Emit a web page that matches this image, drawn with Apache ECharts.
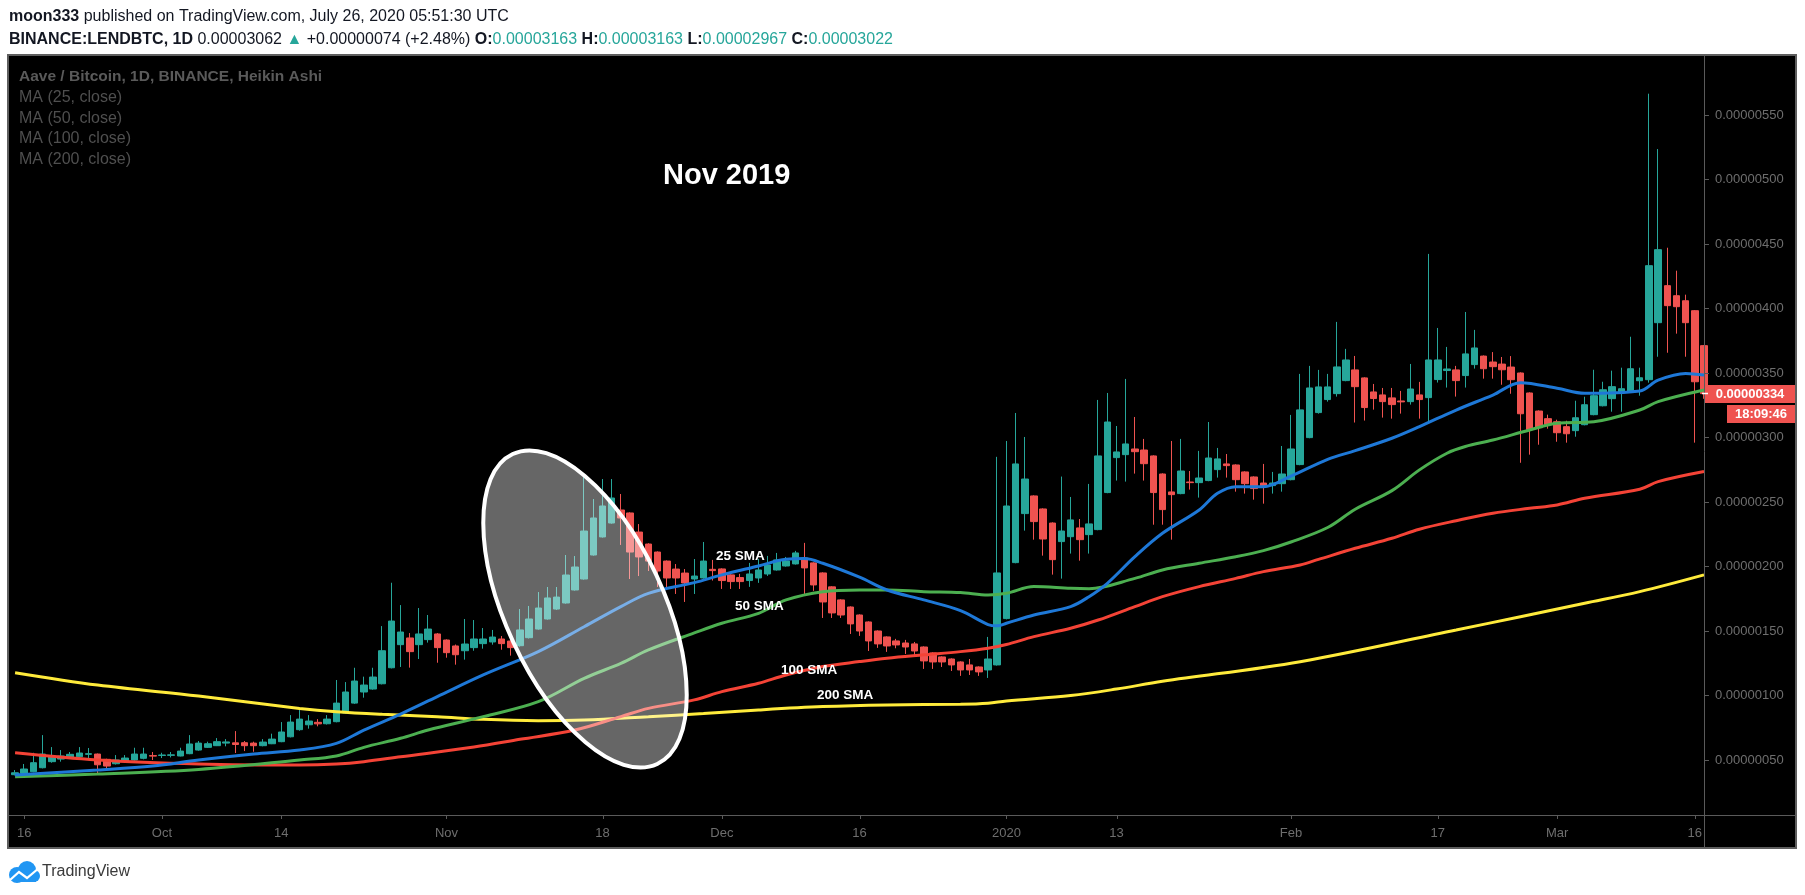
<!DOCTYPE html>
<html>
<head>
<meta charset="utf-8">
<script src="https://cdn.jsdelivr.net/npm/echarts@6/dist/echarts.min.js"></script>
<style>
html,body{margin:0;padding:0;background:#fff;}
#c{width:1805px;height:895px;}
</style>
</head>
<body>
<div id="c"></div>
<script>
// Heikin Ashi daily candles, day 0 = 2019-09-15; prices in units of 1e-8 BTC (550 = 0.00000550)
const haOpen = [38.6,39.6,40.9,44.0,48.7,50.7,51.8,52.5,54.4,54.6,50.5,47.1,48.7,50.0,51.3,53.4,53.5,53.6,53.1,54.9,
57.7,59.8,61.1,63.1,63.3,63.4,63.1,61.1,62.6,64.2,68.0,73.5,77.3,79.2,78.1,79.7,86.4,94.1,102.7,105.0,
109.1,121.5,139.4,144.6,139.4,143.3,147.7,143.0,138.4,134.7,137.1,140.2,141.5,143.8,142.2,138.6,144.8,151.5,159.3,167.0,
171.7,181.8,190.3,208.9,222.9,233.7,243.8,241.5,226.7,217.4,211.2,204.2,198.0,194.9,190.3,191.1,197.8,198.1,193.5,191.4,
189.1,191.1,194.2,197.3,200.4,202.0,206.6,202.8,195.0,184.2,174.1,168.6,162.4,157.0,150.0,145.4,142.3,140.7,140.0,137.6,
133.0,129.9,128.3,126.0,123.7,122.1,119.8,123.7,159.6,203.0,241.0,254.7,244.6,233.7,219.3,223.1,229.9,224.7,228.6,257.3,
284.4,286.7,291.1,290.3,285.7,271.7,257.8,256.5,265.5,265.0,266.6,275.1,279.5,278.7,273.3,269.4,264.7,262.7,264.2,267.3,
279.0,299.9,319.3,329.4,334.0,344.1,352.4,346.2,335.3,333.0,330.7,328.3,327.8,333.0,330.9,344.9,351.9,352.4,348.0,356.5,
363.1,358.5,356.9,354.6,350.0,334.5,320.5,314.6,312.2,308.4,305.3,309.9,317.7,324.6,330.1,334.7,335.5,344.0,344.8,389.0,
417.7,409.9,406.0,398.3,371.2];
const haClose = [40.1,43.0,47.9,54.6,53.1,53.1,54.4,55.4,54.9,46.3,45.3,50.0,51.5,54.6,54.6,53.0,53.9,54.0,56.9,62.4,
63.1,62.6,64.2,64.0,62.0,61.1,61.1,63.9,66.2,71.7,79.4,81.7,80.2,78.0,81.7,94.1,102.7,111.2,108.1,114.3,
134.7,157.7,149.2,134.0,147.7,151.5,137.1,133.2,131.6,139.9,143.8,143.8,145.3,140.2,137.1,150.8,159.3,167.8,175.6,176.3,
193.4,199.6,227.5,237.6,246.9,253.1,237.6,211.2,207.4,204.2,196.5,191.1,191.1,187.2,192.6,204.2,196.8,189.1,188.3,188.3,
194.2,197.3,201.2,205.1,204.3,210.5,198.9,185.7,172.5,164.0,162.4,155.5,150.0,142.3,140.0,138.4,139.2,137.6,134.5,126.8,
126.0,126.0,123.7,119.8,119.8,118.3,128.3,195.0,246.9,279.5,267.8,234.8,221.3,205.3,227.5,236.1,220.8,233.0,285.7,312.0,
288.8,295.0,289.0,279.7,257.3,244.1,255.7,274.0,265.0,268.6,284.1,283.4,278.2,267.3,264.2,260.4,261.9,264.7,271.7,291.1,
321.4,338.4,339.2,339.2,354.7,360.1,339.4,323.2,330.2,327.8,325.5,327.6,337.6,329.4,360.1,360.1,353.1,344.1,364.8,369.4,
353.3,354.9,352.5,344.8,318.4,306.0,307.6,309.9,303.7,302.9,315.3,325.4,332.4,337.0,339.4,337.8,353.3,346.3,433.2,445.6,
402.2,401.4,389.0,343.2,334.0];
const haLow = [38.1,39.0,40.5,43.5,47.9,48.7,51.0,50.5,50.5,39.6,42.7,46.5,48.0,49.5,50.5,50.0,51.5,52.0,52.8,54.5,
57.2,59.3,60.8,60.6,55.4,56.9,56.4,60.6,62.3,63.8,67.5,72.7,74.3,76.1,77.5,79.2,86.0,93.5,98.3,104.5,
108.6,121.0,122.1,121.6,128.3,141.0,125.4,129.3,123.9,127.8,134.7,136.3,139.4,135.5,130.9,137.8,144.2,151.0,158.8,166.3,
171.2,181.3,189.8,208.4,222.4,233.2,216.7,190.3,192.6,196.5,184.1,184.1,178.7,172.5,178.7,190.6,189.1,182.6,182.6,182.6,
184.2,187.3,192.7,196.8,199.9,201.5,178.7,181.1,160.1,160.1,160.1,147.7,146.2,134.5,136.9,133.8,136.6,132.2,130.7,120.6,
120.6,122.1,119.0,115.2,115.9,115.2,113.6,123.2,159.0,202.5,227.8,220.8,208.4,193.7,190.6,210.0,204.5,210.0,228.1,256.8,
266.6,265.8,272.0,266.6,232.4,232.4,220.8,256.0,259.6,253.4,266.1,268.9,268.9,258.0,256.5,251.8,248.7,256.5,258.0,266.8,
278.5,299.4,318.5,327.8,331.7,343.6,311.6,313.1,321.6,315.4,314.6,318.5,325.5,314.6,312.3,342.6,338.7,331.7,338.7,353.4,
345.6,345.6,340.9,333.9,280.4,286.7,294.4,306.8,296.7,296.0,300.6,309.4,317.2,324.1,320.0,320.0,335.0,332.4,342.5,362.6,
365.7,380.5,362.6,296.0,330.0];
const haHigh = [42.2,46.9,55.6,69.3,60.0,57.7,56.2,60.0,59.3,55.0,51.0,53.8,53.8,59.5,59.5,56.2,55.6,56.2,59.5,69.3,
64.7,64.2,67.0,66.2,72.4,64.7,64.2,66.2,70.4,79.4,84.8,88.7,84.8,81.7,84.8,112.0,110.4,121.5,114.6,121.5,
153.8,187.4,170.1,148.4,167.8,162.4,148.4,143.5,139.5,159.3,158.5,152.3,150.8,146.1,142.7,167.0,169.4,180.2,184.1,184.1,
208.9,208.1,270.1,252.3,267.8,267.8,256.2,242.0,232.9,218.0,211.7,204.7,201.9,198.0,205.8,219.0,205.1,198.6,194.0,194.3,
202.8,205.9,208.2,210.5,207.4,212.1,218.3,203.3,195.5,184.7,174.6,169.1,162.9,157.5,150.5,145.9,143.9,143.1,141.5,138.1,
133.5,130.4,128.8,126.5,128.3,122.6,145.4,285.0,297.3,319.0,300.4,255.2,245.1,234.2,269.7,253.9,236.8,264.0,329.1,334.5,
308.9,345.4,315.9,298.9,286.2,272.2,297.3,298.9,274.0,289.6,312.0,291.9,287.2,279.2,273.8,269.9,279.5,273.3,293.4,317.5,
349.3,355.5,352.4,349.3,389.6,368.7,363.2,346.7,341.5,338.4,338.4,336.1,357.0,343.1,442.3,384.9,370.2,355.5,397.3,383.4,
363.6,366.2,362.4,363.1,350.5,335.0,321.0,317.7,313.8,313.0,328.5,331.6,352.5,343.2,351.8,354.1,378.1,354.1,566.5,523.6,
447.1,429.3,410.7,398.8,371.7];

// Moving averages: [day, value]
const ma25 = [[0,38.3],[9,42.2],[15,45.3],[20,50.0],[26,54.6],[31,57.7],[35,62.9],[38,73.2],[42,85.6],[46,99.1],[51,115.9],[57,134.0],
[62,153.3],[66,168.9],[69,179.2],[74,187.5],[77,193.5],[81,200.4],[84,205.6],[86,206.1],[88,202.5],[92,191.7],[95,181.8],[99,174.1],
[103,165.8],[106,155.0],[107,154.0],[108,156.0],[111,162.4],[115,168.9],[117,176.6],[119,187],[122,207.6],[125,225.7],[129,243.8],[131,256.7],
[133,261.9],[136,261.9],[139,270.0],[143,283.1],[146,289.8],[150,299.4],[153,308.4],[157,321.3],[161,332.9],[164,342.5],[168,338.1],
[171,334.2],[177,336.0],[179,344.5],[182,349.7],[184,348.4]];
const ma50 = [[0,37.0],[9,39.1],[20,42.7],[31,50.0],[35,53.1],[38,59.8],[42,66.8],[45,73.2],[51,83.6],[57,95.2],[62,113.3],[66,124.9],
[69,135.3],[74,148.5],[77,156.0],[81,163.7],[84,174.1],[88,180.5],[92,181.8],[95,181.8],[99,180.5],[103,179.8],[106,177.9],[108,179.2],
[111,184.4],[115,183.1],[117,182.8],[122,190.8],[125,197.3],[129,202.5],[133,207.6],[136,212.3],[139,219.0],[143,230.2],[146,244.4],
[150,258.8],[153,274.9],[156,287.8],[158,293.0],[161,298.0],[165,305.8],[168,311.0],[172,312.2],[177,321.3],[179,327.8],[184,336.8]];
const ma100 = [[0,55.6],[9,50.0],[20,46.9],[31,46.1],[35,46.9],[38,48.7],[42,52.5],[50,60.0],[55,66.0],[61,73.2],[66,83.6],[69,90.0],
[74,96.6],[77,103.0],[81,109.5],[84,115.9],[88,122.4],[92,126.3],[95,128.9],[99,131.5],[103,134.0],[106,136.6],[108,139.5],[111,145.6],
[115,152.1],[118,158.5],[122,168.9],[125,176.6],[129,184.4],[133,190.8],[136,196.0],[140,201.2],[142,205.5],[146,214.1],[150,221.9],
[153,228.9],[157,235.5],[161,241.3],[165,245.1],[168,247.7],[171,252.9],[177,259.9],[179,265.8],[184,273.6]];
const ma200 = [[0,117.7],[9,108.1],[20,99.6],[31,90.0],[35,87.4],[40,85.4],[46,83.6],[51,81.5],[57,80.5],[62,81.0],[69,83.6],[75,86.0],
[81,88.8],[88,91.4],[95,92.7],[103,93.2],[106,94.0],[108,95.8],[115,100.0],[120,105.0],[125,111.0],[140,126.2],[157,150.8],[164,161.1],
[171,171.5],[177,180.5],[184,193.5]];

// Axis ticks
const xTickDays = [1,16,29,47,64,77,92,108,120,139,155,168,183];
const xTickLabels = ['16','Oct','14','Nov','18','Dec','16','2020','13','Feb','17','Mar','16'];
const yTickValues = [50,100,150,200,250,300,350,400,450,500,550];
const lastPrice = 334;

const UP = '#26a69a', DOWN = '#ef5350';
const candles = haOpen.map((o, i) => [i, o, haClose[i], haLow[i], haHigh[i]]);

const chart = echarts.init(document.getElementById('c'));
const maLine = (name, data, color) => ({
  name, type: 'line', data, smooth: 0.35, showSymbol: false, z: 4,
  lineStyle: { color, width: 3 }, silent: true
});

const gray = '#6e6e6e';
const axisGray = '#5a5a5a';
const font = 'Liberation Sans, Arial, sans-serif';

const baseGraphics = [
  // chart panel
  { type: 'rect', z: -10, shape: { x: 8, y: 55, width: 1788, height: 793 },
    style: { fill: '#000', stroke: '#5e5e5e', lineWidth: 2 } },
  { type: 'line', z: 5, shape: { x1: 8, y1: 815.5, x2: 1796, y2: 815.5 }, style: { stroke: axisGray, lineWidth: 1 } },
  { type: 'line', z: 5, shape: { x1: 1704.5, y1: 55, x2: 1704.5, y2: 848 }, style: { stroke: axisGray, lineWidth: 1 } },
  // header
  { type: 'text', x: 9, y: 17, z: 20, style: {
    text: '{b|moon333} published on TradingView.com, July 26, 2020 05:51:30 UTC',
    fill: '#131722', fontSize: 16, fontFamily: font, verticalAlign: 'middle',
    rich: { b: { fontWeight: 'bold', fontSize: 16, fontFamily: font, fill: '#131722' } } } },
  { type: 'text', x: 9, y: 40, z: 20, style: {
    text: '{b|BINANCE:LENDBTC, 1D} 0.00003062 {t|▲} +0.00000074 (+2.48%) {b|O:}{t|0.00003163} {b|H:}{t|0.00003163} {b|L:}{t|0.00002967} {b|C:}{t|0.00003022}',
    fill: '#131722', fontSize: 16, fontFamily: font, verticalAlign: 'middle',
    rich: {
      b: { fontWeight: 'bold', fontSize: 16, fontFamily: font, fill: '#131722' },
      t: { fontSize: 16, fontFamily: font, fill: '#26a69a' }
    } } },
  // legend inside panel
  { type: 'text', x: 19, y: 77, z: 20, style: { text: 'Aave / Bitcoin, 1D, BINANCE, Heikin Ashi', fill: '#5a5a5a',
    fontSize: 15.5, fontWeight: 'bold', fontFamily: font, verticalAlign: 'middle' } },
  { type: 'text', x: 19, y: 98, z: 20, style: { text: 'MA (25, close)', fill: '#4f4f4f', fontSize: 16, fontFamily: font, verticalAlign: 'middle' } },
  { type: 'text', x: 19, y: 119, z: 20, style: { text: 'MA (50, close)', fill: '#4f4f4f', fontSize: 16, fontFamily: font, verticalAlign: 'middle' } },
  { type: 'text', x: 19, y: 139, z: 20, style: { text: 'MA (100, close)', fill: '#4f4f4f', fontSize: 16, fontFamily: font, verticalAlign: 'middle' } },
  { type: 'text', x: 19, y: 160, z: 20, style: { text: 'MA (200, close)', fill: '#4f4f4f', fontSize: 16, fontFamily: font, verticalAlign: 'middle' } },
  // annotations
  { type: 'text', x: 663, y: 176, z: 20, style: { text: 'Nov 2019', fill: '#fff', fontSize: 29, fontWeight: 'bold', fontFamily: font, verticalAlign: 'middle' } },
  { type: 'ellipse', x: 585, y: 609, rotation: 25 * Math.PI / 180, z: 10,
    shape: { cx: 0, cy: 0, rx: 79, ry: 171 },
    style: { fill: 'rgba(255,255,255,0.4)', stroke: '#fff', lineWidth: 4 } },
  { type: 'text', x: 716, y: 556, z: 20, style: { text: '25 SMA', fill: '#fff', fontSize: 13.5, fontWeight: 'bold', fontFamily: font, verticalAlign: 'middle' } },
  { type: 'text', x: 735, y: 606, z: 20, style: { text: '50 SMA', fill: '#fff', fontSize: 13.5, fontWeight: 'bold', fontFamily: font, verticalAlign: 'middle' } },
  { type: 'text', x: 781, y: 670, z: 20, style: { text: '100 SMA', fill: '#fff', fontSize: 13.5, fontWeight: 'bold', fontFamily: font, verticalAlign: 'middle' } },
  { type: 'text', x: 817, y: 695, z: 20, style: { text: '200 SMA', fill: '#fff', fontSize: 13.5, fontWeight: 'bold', fontFamily: font, verticalAlign: 'middle' } },
  // price tags
  { type: 'rect', z: 20, shape: { x: 1705, y: 385, width: 90, height: 18 }, style: { fill: DOWN } },
  { type: 'text', x: 1750, y: 394, z: 21, style: { text: (lastPrice / 1e8).toFixed(8), fill: '#fff', fontSize: 13, fontWeight: 'bold', fontFamily: font, align: 'center', verticalAlign: 'middle' } },
  { type: 'line', z: 21, shape: { x1: 1702, y1: 393.5, x2: 1708, y2: 393.5 }, style: { stroke: '#fff', lineWidth: 1.5 } },
  { type: 'rect', z: 20, shape: { x: 1727, y: 405, width: 68, height: 18 }, style: { fill: DOWN } },
  { type: 'text', x: 1761, y: 414, z: 21, style: { text: '18:09:46', fill: '#fff', fontSize: 13, fontWeight: 'bold', fontFamily: font, align: 'center', verticalAlign: 'middle' } },
  // TradingView logo
  { type: 'circle', z: 20, shape: { cx: 17, cy: 875, r: 8 }, style: { fill: '#2196f3' } },
  { type: 'circle', z: 20, shape: { cx: 27, cy: 870, r: 9 }, style: { fill: '#2196f3' } },
  { type: 'circle', z: 20, shape: { cx: 34, cy: 876, r: 6 }, style: { fill: '#2196f3' } },
  { type: 'rect', z: 20, shape: { x: 14, y: 874, width: 22, height: 8 }, style: { fill: '#2196f3' } },
  { type: 'polyline', z: 21, shape: { points: [[10, 880], [19, 872], [27, 878], [39, 868]] }, style: { stroke: '#fff', lineWidth: 2.2, fill: null } },
  { type: 'text', x: 42, y: 872, z: 20, style: { text: 'TradingView', fill: '#3a3a3a', fontSize: 16, fontFamily: font, verticalAlign: 'middle' } }
];

chart.setOption({
  backgroundColor: '#ffffff',
  animation: false,
  grid: { left: 8, top: 55, width: 1696, height: 760, containLabel: false },
  xAxis: {
    type: 'value', min: -0.77, max: 184.0,
    axisLine: { show: false },
    splitLine: { show: false },
    axisTick: { show: false },
    axisLabel: {
      customValues: xTickDays, color: gray, fontSize: 13, fontFamily: font, margin: 12,
      formatter: v => xTickLabels[xTickDays.indexOf(Math.round(v))] || ''
    }
  },
  yAxis: {
    type: 'value', position: 'right', min: 7.36, max: 596.5, scale: true,
    axisLine: { show: false },
    splitLine: { show: false },
    axisTick: { show: false },
    axisLabel: {
      customValues: yTickValues, color: gray, fontSize: 13, fontFamily: font, margin: 11,
      formatter: v => (v / 1e8).toFixed(8)
    }
  },
  series: [
    {
      type: 'candlestick', data: candles, barWidth: 7, z: 3, clip: true,
      itemStyle: { color: UP, color0: DOWN, borderColor: UP, borderColor0: DOWN, borderWidth: 1 }
    },
    maLine('MA 200', ma200, '#ffeb3b'),
    maLine('MA 100', ma100, '#f44336'),
    maLine('MA 50', ma50, '#4caf50'),
    maLine('MA 25', ma25, '#1e78d7')
  ],
  graphic: baseGraphics
});

// axis tick marks placed through the chart's own scales
const tickGraphics = [];
yTickValues.forEach(v => {
  const y = Math.round(chart.convertToPixel({ yAxisIndex: 0 }, v)) + 0.5;
  tickGraphics.push({ type: 'line', z: 5, shape: { x1: 1704, y1: y, x2: 1709, y2: y }, style: { stroke: axisGray, lineWidth: 1 } });
});
xTickDays.forEach(d => {
  const x = Math.round(chart.convertToPixel({ xAxisIndex: 0 }, d)) + 0.5;
  tickGraphics.push({ type: 'line', z: 5, shape: { x1: x, y1: 815, x2: x, y2: 819 }, style: { stroke: axisGray, lineWidth: 1 } });
});
chart.setOption({ graphic: baseGraphics.concat(tickGraphics) });
</script>
</body>
</html>
